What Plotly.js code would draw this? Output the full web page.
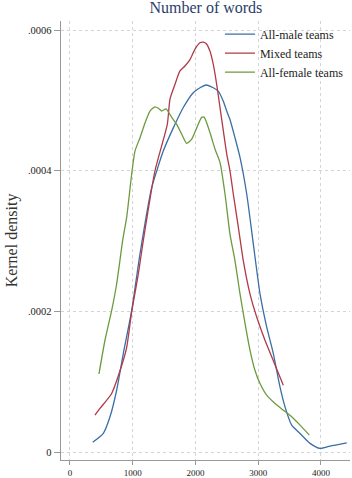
<!DOCTYPE html>
<html>
<head>
<meta charset="utf-8">
<script src="https://cdn.plot.ly/plotly-3.0.1.min.js"></script>
<style>html,body{margin:0;padding:0;background:#fff;}#chart{width:352px;height:478px;}</style>
</head>
<body>
<div id="chart"></div>
<script>
// All-male teams
var maleX = [362, 531, 638, 744, 850, 983, 1116, 1302, 1387, 1487, 1647, 1806, 1965, 2072, 2168, 2284, 2364, 2444, 2498, 2550, 2630, 2710, 2817, 2922, 3029, 3135, 3241, 3347, 3427, 3534, 3666, 3826, 3985, 4144, 4411];
var maleY = [0.0000138, 0.0000265, 0.0000501, 0.0000879, 0.000140, 0.000201, 0.000282, 0.000376, 0.000401, 0.000428, 0.000461, 0.000490, 0.000511, 0.000518, 0.000522, 0.000518, 0.000513, 0.000499, 0.000485, 0.000473, 0.000447, 0.000419, 0.000367, 0.000296, 0.000225, 0.000178, 0.000140, 0.0000926, 0.0000643, 0.0000383, 0.0000265, 0.0000123, 0.0000052, 0.0000085, 0.0000132];
// Mixed teams
var mixedX = [399, 478, 664, 824, 904, 983, 1089, 1169, 1355, 1551, 1594, 1674, 1753, 1833, 1913, 1993, 2072, 2125, 2179, 2232, 2285, 2338, 2391, 2444, 2498, 2550, 2603, 2683, 2763, 2869, 2976, 3108, 3241, 3400];
var mixedY = [0.0000525, 0.000062, 0.0000833, 0.000123, 0.000149, 0.000199, 0.000253, 0.000301, 0.000400, 0.000466, 0.000502, 0.000523, 0.000542, 0.000549, 0.000558, 0.000573, 0.000582, 0.000583, 0.000580, 0.000570, 0.000551, 0.000523, 0.000490, 0.000457, 0.000424, 0.000400, 0.000367, 0.000320, 0.000272, 0.000225, 0.000192, 0.000159, 0.000130, 0.000095];
// All-female teams
var femaleX = [462, 558, 664, 744, 840, 904, 983, 1036, 1116, 1196, 1275, 1355, 1408, 1461, 1530, 1621, 1701, 1781, 1860, 1940, 2020, 2099, 2141, 2232, 2311, 2391, 2471, 2550, 2630, 2710, 2790, 2869, 2949, 3029, 3135, 3268, 3400, 3534, 3666, 3815];
var femaleY = [0.000111, 0.000159, 0.000201, 0.000239, 0.000301, 0.000334, 0.000395, 0.000428, 0.000447, 0.000468, 0.000485, 0.000491, 0.000489, 0.000485, 0.000488, 0.000476, 0.000466, 0.000452, 0.000439, 0.000445, 0.000461, 0.000476, 0.000476, 0.000454, 0.000431, 0.000412, 0.000367, 0.000310, 0.000272, 0.000225, 0.000183, 0.000145, 0.000116, 0.0000974, 0.0000809, 0.0000690, 0.0000596, 0.0000501, 0.0000383, 0.0000241];

var seriesNames = ["All-male teams", "Mixed teams", "All-female teams"];
var yTickVals = [0, 0.0002, 0.0004, 0.0006];
var yTickText = ["0", ".0002", ".0004", ".0006"];
var xTickVals = [0, 1000, 2000, 3000, 4000];
var xTickText = ["0", "1000", "2000", "3000", "4000"];

var FONT = "Liberation Serif, DejaVu Serif, serif";

function tr(x, y, name, color) {
  return {x: x, y: y, name: name, type: "scatter", mode: "lines",
    line: {color: color, width: 1.3, shape: "spline", smoothing: 0.6}, hoverinfo: "skip"};
}

var data = [
  tr(maleX, maleY, seriesNames[0], "#3a6ea5"),
  tr(mixedX, mixedY, seriesNames[1], "#b03a48"),
  tr(femaleX, femaleY, seriesNames[2], "#6d9a3f")
];

var layout = {
  width: 352, height: 478,
  margin: {l: 61, r: 2, t: 21, b: 18},
  paper_bgcolor: "#fff", plot_bgcolor: "#fff",
  font: {family: FONT, color: "#222"},
  showlegend: true,
  title: {text: "Number of words", font: {family: FONT, size: 16, color: "#2c3e6b"}, x: 0.585, xanchor: "center", y: 0.996, yanchor: "top"},
  xaxis: {
    range: [-143, 4463], tickmode: "array", tickvals: xTickVals, ticktext: xTickText,
    showline: true, linecolor: "#999", linewidth: 1.3, mirror: false,
    ticks: "outside", ticklen: 4, tickcolor: "#999", tickwidth: 1,
    showgrid: true, gridcolor: "#d4d4d4", griddash: "dot", gridwidth: 1, zeroline: false,
    tickfont: {family: FONT, size: 9, color: "#222"}, fixedrange: true
  },
  yaxis: {
    range: [-0.0000113, 0.000613], tickmode: "array", tickvals: yTickVals, ticktext: yTickText,
    showline: true, linecolor: "#999", linewidth: 1.3,
    ticks: "outside", ticklen: 6, tickcolor: "#999", tickwidth: 1,
    showgrid: true, gridcolor: "#d4d4d4", griddash: "dot", gridwidth: 1, zeroline: false,
    tickfont: {family: FONT, size: 10.5, color: "#222"},
    title: {text: "Kernel density", font: {family: FONT, size: 16, color: "#333"}, standoff: 6},
    fixedrange: true
  },
  legend: {
    x: 0.55, y: 1.003, xanchor: "left", yanchor: "top",
    bgcolor: "rgba(255,255,255,0)", borderwidth: 0,
    font: {family: FONT, size: 12, color: "#222"}, itemwidth: 30, tracegroupgap: 0
  }
};

Plotly.newPlot("chart", data, layout, {displayModeBar: false, staticPlot: true});
</script>
</body>
</html>
